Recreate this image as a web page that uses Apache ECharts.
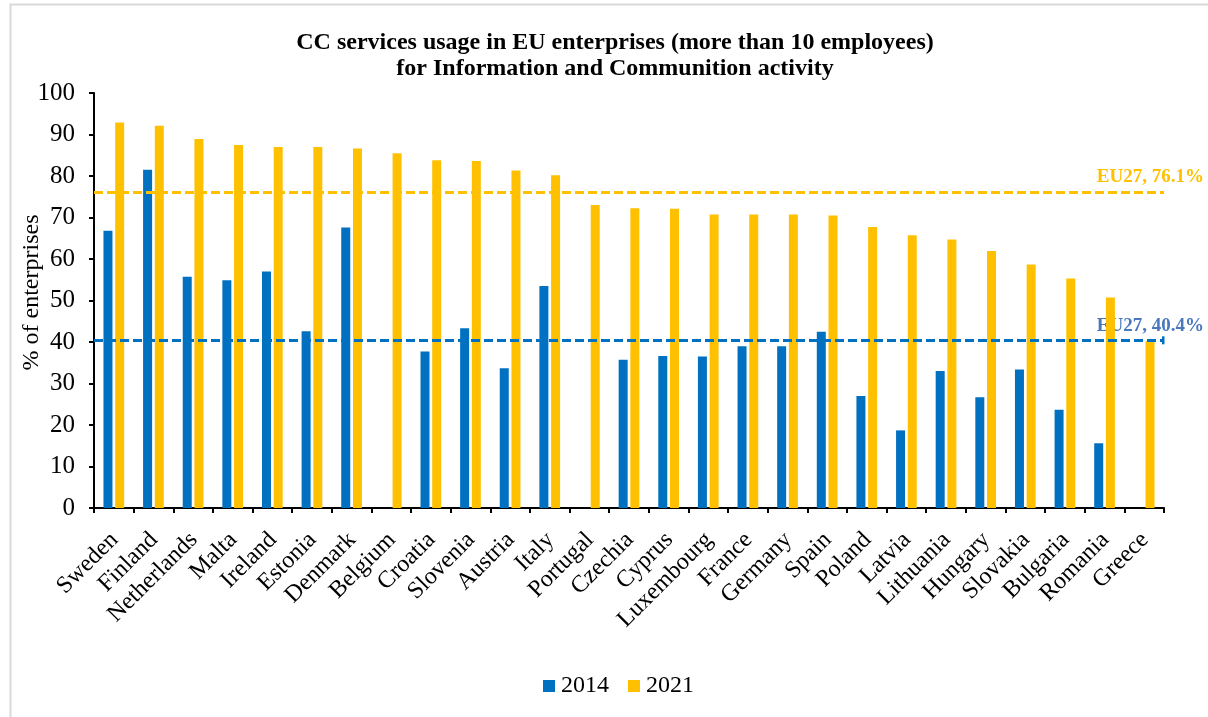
<!DOCTYPE html>
<html>
<head>
<meta charset="utf-8">
<style>
  html, body { margin: 0; padding: 0; background: #ffffff; }
  #chart { width: 1208px; height: 717px; }
</style>
<script src="https://cdn.jsdelivr.net/npm/echarts@6/dist/echarts.min.js"></script>
</head>
<body>
<div id="chart"></div>
<script>
// Share of enterprises (Information and Communication) using cloud computing services
const countries = ['Sweden', 'Finland', 'Netherlands', 'Malta', 'Ireland', 'Estonia', 'Denmark',
  'Belgium', 'Croatia', 'Slovenia', 'Austria', 'Italy', 'Portugal', 'Czechia', 'Cyprus',
  'Luxembourg', 'France', 'Germany', 'Spain', 'Poland', 'Latvia', 'Lithuania', 'Hungary',
  'Slovakia', 'Bulgaria', 'Romania', 'Greece'];

const values2014 = [66.8, 81.5, 55.7, 54.9, 57.0, 42.6, 67.6, null, 37.7, 43.3, 33.7, 53.5, null,
  35.7, 36.6, 36.5, 39.0, 39.0, 42.5, 27.0, 18.7, 33.0, 26.7, 33.4, 23.7, 15.6, null];

const values2021 = [92.9, 92.1, 88.9, 87.5, 87.0, 87.0, 86.6, 85.5, 83.8, 83.6, 81.3, 80.2, 73.0,
  72.2, 72.1, 70.7, 70.7, 70.7, 70.5, 67.7, 65.7, 64.7, 61.9, 58.7, 55.3, 50.7, 40.2];

const yTicks = [0, 10, 20, 30, 40, 50, 60, 70, 80, 90, 100];

// EU27 averages
const eu2014 = 40.4;
const eu2021 = 76.1;

const BLUE = '#0070C0';
const YELLOW = '#FFC000';
const FONT = '"Liberation Serif", "Times New Roman", serif';

const GRID = { left: 94, right: 44, top: 93, bottom: 209 };

const chart = echarts.init(document.getElementById('chart'));

function avgLine(value, color) {
  return {
    silent: true,
    symbol: 'none',
    label: { show: false },
    lineStyle: { color: color, type: [9, 4], width: 3 },
    data: [{ yAxis: value }]
  };
}

chart.setOption({
  animation: false,
  backgroundColor: '#ffffff',
  textStyle: { fontFamily: FONT, color: '#000' },
  title: {
    text: 'CC services usage in EU enterprises (more than 10 employees)\nfor Information and Communition activity',
    left: 610,
    textAlign: 'center',
    top: 25,
    textStyle: { fontFamily: FONT, fontSize: 24, fontWeight: 'bold', color: '#000', lineHeight: 26 }
  },
  legend: {
    bottom: 14,
    left: 538,
    itemWidth: 12,
    itemHeight: 12,
    itemGap: 19,
    icon: 'rect',
    textStyle: { fontFamily: FONT, fontSize: 24, color: '#000', padding: [0, 0, 0, 1] },
    data: ['2014', '2021']
  },
  grid: {
    left: GRID.left, right: GRID.right, top: GRID.top, bottom: GRID.bottom,
    containLabel: false, outerBoundsMode: 'none'
  },
  xAxis: {
    type: 'category',
    data: countries,
    axisLine: { lineStyle: { color: '#000', width: 2 } },
    axisTick: { show: true, alignWithLabel: false, length: 5, lineStyle: { color: '#000', width: 2 } },
    axisLabel: {
      rotate: 45, interval: 0, fontFamily: FONT, fontSize: 24, color: '#000',
      margin: 12, verticalAlign: 'top', padding: [0, 11, 0, 0]
    }
  },
  yAxis: {
    type: 'value',
    min: yTicks[0],
    max: yTicks[yTicks.length - 1],
    interval: 10,
    name: '% of enterprises',
    nameLocation: 'middle',
    nameGap: 50,
    nameMoveOverlap: false,
    nameTextStyle: { fontFamily: FONT, fontSize: 24, color: '#000', padding: [0, 0, 0, 16] },
    axisLine: { show: true, lineStyle: { color: '#000', width: 2 } },
    axisTick: { show: true, length: 5, lineStyle: { color: '#000', width: 2 } },
    axisLabel: { fontFamily: FONT, fontSize: 25, color: '#000', margin: 19 },
    splitLine: { show: false }
  },
  series: [
    {
      name: '2014',
      type: 'bar',
      data: values2014,
      barWidth: 9,
      barGap: '30%',
      itemStyle: { color: BLUE },
      markLine: avgLine(eu2014, BLUE),
      z: 2
    },
    {
      name: '2021',
      type: 'bar',
      data: values2021,
      barWidth: 9,
      barGap: '30%',
      itemStyle: { color: YELLOW },
      markLine: avgLine(eu2021, YELLOW),
      z: 2
    }
  ]
});

// Average labels placed above the right end of each EU27 line
function placeAvgLabels() {
  const y21 = chart.convertToPixel({ yAxisIndex: 0 }, eu2021);
  const y14 = chart.convertToPixel({ yAxisIndex: 0 }, eu2014);
  const right = chart.getWidth() - 4;
  const lineEnd = chart.getWidth() - GRID.right;
  chart.setOption({
    graphic: [
      // outer frame of the chart area
      {
        type: 'rect',
        silent: true,
        shape: { x: 10.5, y: 4.5, width: 1210, height: 720 },
        style: { fill: 'none', stroke: '#d9d9d9', lineWidth: 2 }
      },
      // small end cap on the 2014 average line
      {
        type: 'rect',
        silent: true,
        z: 10,
        shape: { x: lineEnd - 2, y: y14 - 4, width: 2.5, height: 8 },
        style: { fill: BLUE }
      },
      {
        type: 'text',
        silent: true,
        x: right,
        y: y21 - 15,
        style: {
          text: 'EU27, ' + eu2021 + '%',
          fill: YELLOW,
          font: 'bold 19px ' + FONT,
          align: 'right',
          verticalAlign: 'middle'
        }
      },
      {
        type: 'text',
        silent: true,
        x: right,
        y: y14 - 14,
        style: {
          text: 'EU27, ' + eu2014 + '%',
          fill: '#4A78BD',
          font: 'bold 19px ' + FONT,
          align: 'right',
          verticalAlign: 'middle'
        }
      }
    ]
  });
}
placeAvgLabels();
</script>
</body>
</html>
